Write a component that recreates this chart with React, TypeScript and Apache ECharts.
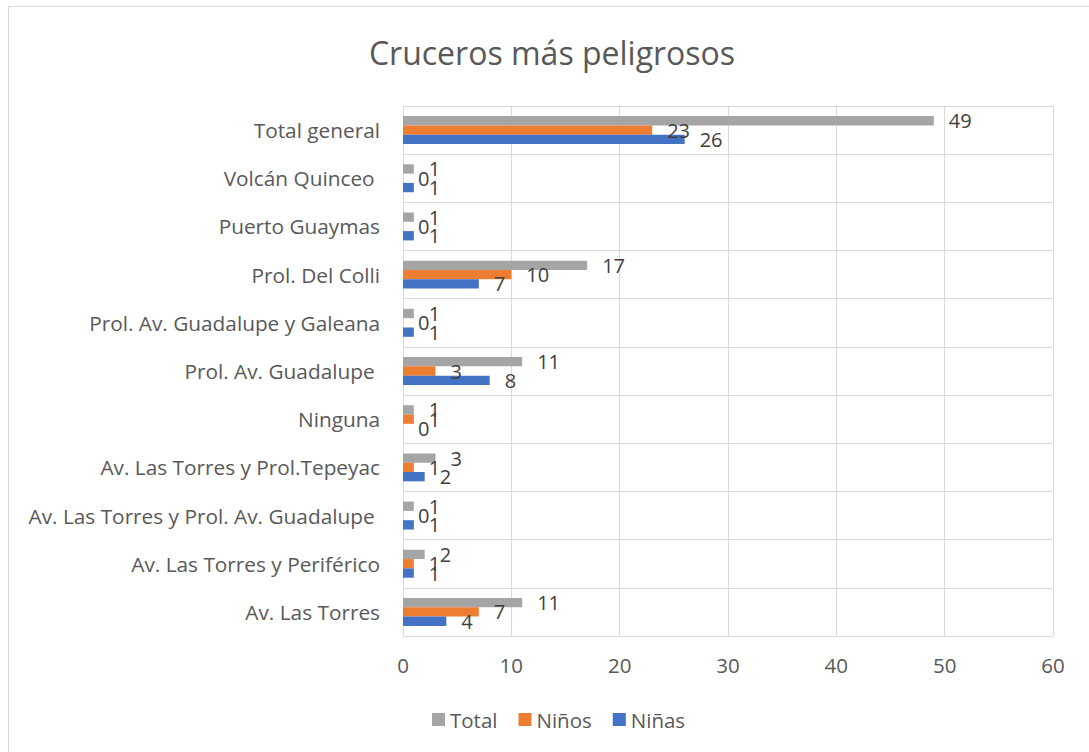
import React, { useEffect, useRef } from "react";
import * as echarts from "echarts";

const categories = [
  "Av. Las Torres",
  "Av. Las Torres y Periférico",
  "Av. Las Torres y Prol. Av. Guadalupe ",
  "Av. Las Torres y Prol.Tepeyac",
  "Ninguna",
  "Prol. Av. Guadalupe ",
  "Prol. Av. Guadalupe y Galeana",
  "Prol. Del Colli",
  "Puerto Guaymas",
  "Volcán Quinceo ",
  "Total general",
];

const ninas = [4, 1, 1, 2, 0, 8, 1, 7, 1, 1, 26];
const ninos = [7, 1, 0, 1, 1, 3, 0, 10, 0, 0, 23];
const total = [11, 2, 1, 3, 1, 11, 1, 17, 1, 1, 49];

const xTicks = { min: 0, max: 60, interval: 10 };

const FONT = "'Open Sans', 'Noto Sans', sans-serif";

export default function App() {
  const ref = useRef<HTMLDivElement>(null);

  useEffect(() => {
    if (!ref.current) return;
    const chart = echarts.init(ref.current, undefined, { renderer: "svg" });
    const label = {
      show: true,
      position: "right",
      distance: 15,
      color: "#404040",
      fontSize: 20,
      fontFamily: FONT,
    };
    const common = { type: "bar", barGap: "0%", barCategoryGap: "42%", label };
    chart.setOption({
      animation: false,
      textStyle: { fontFamily: FONT },
      title: {
        text: "Cruceros más peligrosos",
        left: 547,
        top: 30,
        textAlign: "center",
        textStyle: {
          fontSize: 32,
          lineHeight: 34,
          fontWeight: "normal",
          color: "#595959",
          fontFamily: FONT,
        },
      },
      legend: {
        data: ["Total", "Niños", "Niñas"],
        left: 427,
        top: 704,
        itemWidth: 13,
        itemHeight: 13,
        itemGap: 21,
        icon: "rect",
        textStyle: { fontSize: 20.5, color: "#595959", fontFamily: FONT },
      },
      grid: { left: 403, right: 36, top: 106, bottom: 116, containLabel: false },
      xAxis: {
        type: "value",
        min: xTicks.min,
        max: xTicks.max,
        interval: xTicks.interval,
        axisLine: { show: false },
        axisTick: { show: false },
        splitLine: { show: true, lineStyle: { color: "#d9d9d9", width: 1 } },
        axisLabel: { fontSize: 20.5, color: "#595959", margin: 18, fontFamily: FONT },
      },
      yAxis: {
        type: "category",
        data: categories,
        axisLine: { show: false },
        axisTick: { show: false },
        splitLine: { show: true, lineStyle: { color: "#d9d9d9", width: 1 } },
        axisLabel: { fontSize: 20.8, color: "#595959", margin: 23, fontFamily: FONT },
      },
      series: [
        { ...common, name: "Total", data: total, itemStyle: { color: "#A5A5A5" } },
        { ...common, name: "Niños", data: ninos, itemStyle: { color: "#ED7D31" } },
        { ...common, name: "Niñas", data: ninas, itemStyle: { color: "#4472C4" } },
      ],
    });
    return () => chart.dispose();
  }, []);

  return (
    <div style={{ position: "fixed", left: 0, top: 0, width: 1089, height: 752, overflow: "hidden", background: "#fff" }}>
      <div
        style={{
          position: "absolute",
          left: 8,
          top: 6,
          width: 1200,
          height: 800,
          borderLeft: "1px solid #d9d9d9",
          borderTop: "1px solid #d9d9d9",
        }}
      />
      <div ref={ref} style={{ position: "absolute", left: 0, top: 0, width: 1089, height: 752 }} />
    </div>
  );
}
